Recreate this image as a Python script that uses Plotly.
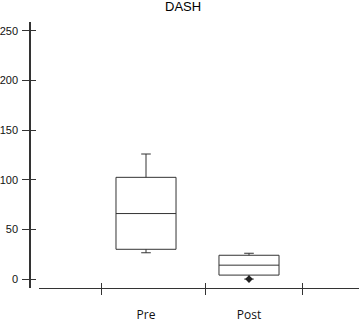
import plotly.graph_objects as go

categories = ["Pre", "Post"]
cat_pos = [1, 2]
q1 = [30, 4]
median = [66, 14]
q3 = [102.5, 24]
lowerfence = [26.5, 0]
upperfence = [126, 26]
outlier_x = [2]
outlier_y = [0]
y_ticks = [0, 50, 100, 150, 200, 250]
boundary_ticks = [0.563, 1.573, 2.524]

LINE = "#333333"
XR = [-0.039, 3.068]
YR = [-9, 259]

fig = go.Figure()
for i, c in enumerate(categories):
    fig.add_trace(go.Box(
        x=[cat_pos[i]], q1=[q1[i]], median=[median[i]], q3=[q3[i]],
        lowerfence=[lowerfence[i]], upperfence=[upperfence[i]],
        width=0.583, whiskerwidth=0.16, boxpoints=False,
        line=dict(color=LINE, width=1), fillcolor="rgba(0,0,0,0)",
        name=c, showlegend=False, hoverinfo="skip"))
fig.add_trace(go.Scatter(x=outlier_x, y=outlier_y, mode="markers",
                         marker=dict(symbol="diamond", size=6, color="#222"),
                         showlegend=False, hoverinfo="skip"))

fig.update_layout(
    width=359, height=322,
    margin=dict(l=30, r=0, t=22, b=24, autoexpand=False),
    paper_bgcolor="white", plot_bgcolor="white",
    font=dict(family="Liberation Sans, Arial", size=11, color="#111"),
    xaxis=dict(range=XR, domain=[9/329, 1], tickvals=cat_pos, ticktext=categories,
               ticks="", showline=True, linecolor=LINE, linewidth=1, showgrid=False,
               zeroline=False, anchor="y", ticklabelstandoff=16, automargin=False,
               tickfont=dict(family="Open Sans, Noto Sans", size=12, color="#111")),
    xaxis2=dict(range=XR, domain=[9/329, 1], overlaying="x", anchor="y", side="bottom",
                tickvals=boundary_ticks, ticks="outside", ticklen=6, tickcolor=LINE,
                showticklabels=False, showgrid=False, zeroline=False, showline=False,
                automargin=False),
    xaxis3=dict(range=XR, domain=[9/329, 1], overlaying="x", anchor="y", side="bottom",
                tickvals=boundary_ticks, ticks="inside", ticklen=5, tickcolor=LINE,
                showticklabels=False, showgrid=False, zeroline=False, showline=False,
                automargin=False),
    yaxis=dict(range=YR, domain=[10/276, 1], tickvals=y_ticks, ticks="outside", ticklen=7,
               tickcolor=LINE, showline=True, linecolor=LINE, linewidth=1.5,
               showgrid=False, zeroline=False, anchor="free", position=0,
               ticklabelstandoff=2, automargin=False),
    yaxis2=dict(range=YR, domain=[10/276, 1], overlaying="y", anchor="free", position=0,
                tickvals=y_ticks, ticks="inside", ticklen=5, tickcolor=LINE,
                showticklabels=False, showgrid=False, zeroline=False, showline=False,
                automargin=False),
    annotations=[dict(text="DASH", xref="paper", yref="paper",
                      x=(183-30)/329, y=1+(22-6.5)/276, xanchor="center", yanchor="middle",
                      showarrow=False,
                      font=dict(family="Liberation Sans, Arial", size=13, color="#000"))],
)
fig.add_trace(go.Scatter(x=[1], y=[0], xaxis="x2", yaxis="y", mode="markers",
                         marker=dict(opacity=0), showlegend=False, hoverinfo="skip"))
fig.add_trace(go.Scatter(x=[1], y=[0], xaxis="x3", yaxis="y2", mode="markers",
                         marker=dict(opacity=0), showlegend=False, hoverinfo="skip"))
fig.write_html("out.html", config={"displayModeBar": False},
               post_script="document.body.style.margin='0';document.body.style.overflow='hidden';")
